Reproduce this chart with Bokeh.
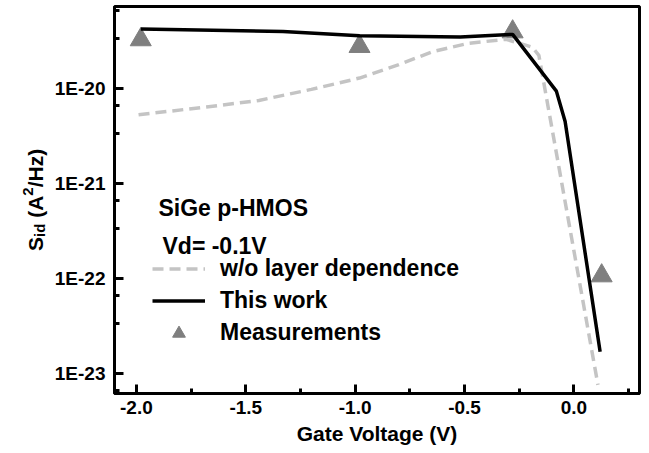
import math
import numpy as np
from bokeh.plotting import figure
from bokeh.layouts import row
from bokeh.models import (Range1d, SingleIntervalTicker, FixedTicker, NumeralTickFormatter,
                          CustomJSTickFormatter, Label, Legend, LegendItem)
from bokeh.embed import file_html
from bokeh.resources import INLINE

# ---- data ----
vg_model = [-1.98, -1.33, -0.98, -0.52, -0.28, -0.08, -0.04, 0.12]
sid_model = [4.23e-20, 3.99e-20, 3.6e-20, 3.5e-20, 3.72e-20, 9.4e-21, 4.5e-21, 1.7e-23]

vg_nolayer = [-1.99, -1.68, -1.44, -1.20, -0.98, -0.80, -0.64, -0.48, -0.31, -0.19, -0.16, 0.11]
sid_nolayer = [5.3e-21, 6.4e-21, 7.5e-21, 9.8e-21, 1.29e-20, 1.79e-20, 2.47e-20, 3.0e-20,
               3.3e-20, 2.73e-20, 2.24e-20, 7.6e-24]

vg_meas = [-1.98, -0.98, -0.28, 0.127]
sid_meas = [3.27e-20, 2.78e-20, 3.96e-20, 1.07e-22]

y_major = [1e-23, 1e-22, 1e-21, 1e-20]
y_tick_labels = ["1E-23", "1E-22", "1E-21", "1E-20"]
decades = [1e-24, 1e-23, 1e-22, 1e-21, 1e-20]
y_minor = [d * f for d in decades for f in (10.0 / 3.0, 20.0 / 3.0)]

series_labels = ["w/o layer dependence", "This work", "Measurements"]
note_lines = ["SiGe p-HMOS", "Vd= -0.1V"]
x_title = "Gate Voltage (V)"

FONT = "Liberation Sans"
STRIP_W = 48

p = figure(width=649 - STRIP_W, height=453, y_axis_type="log",
           x_range=Range1d(-2.1, 0.3), y_range=Range1d(10 ** -23.21, 10 ** -19.136),
           output_backend="svg", toolbar_location=None,
           min_border_left=114 - STRIP_W, min_border_right=10, min_border_top=6,
           min_border_bottom=60)
p.background_fill_color = "white"
p.border_fill_color = "white"
p.grid.visible = False
p.outline_line_color = "black"
p.outline_line_width = 3
p.outline_line_alpha = 1.0

# axes
p.xaxis.ticker = SingleIntervalTicker(interval=0.5, num_minor_ticks=2)
p.xaxis.formatter = NumeralTickFormatter(format="0.0")
p.yaxis.ticker = FixedTicker(ticks=y_major, minor_ticks=y_minor)
p.yaxis.formatter = CustomJSTickFormatter(args=dict(major_vals=y_major, lbls=y_tick_labels), code="""
    let best = 0, bd = 1e9;
    for (let i = 0; i < major_vals.length; i++) {
        const d = Math.abs(Math.log10(major_vals[i]) - Math.log10(tick));
        if (d < bd) { bd = d; best = i; }
    }
    return lbls[best];
""")
for ax in (p.xaxis[0], p.yaxis[0]):
    ax.axis_line_width = 3
    ax.axis_line_color = "black"
    ax.major_tick_in = 9
    ax.major_tick_out = 0
    ax.minor_tick_in = 5
    ax.minor_tick_out = 0
    ax.major_tick_line_width = 3
    ax.minor_tick_line_width = 3
    ax.major_tick_line_color = "black"
    ax.minor_tick_line_color = "black"
    ax.major_label_text_font = FONT
    ax.major_label_text_font_style = "bold"
    ax.major_label_text_font_size = "19px"
    ax.major_label_text_color = "black"
p.xaxis.major_label_standoff = 7
p.yaxis.major_label_standoff = 9
p.xaxis.axis_label = x_title
p.xaxis.axis_label_text_font = FONT
p.xaxis.axis_label_text_font_style = "bold"
p.xaxis.axis_label_text_font_size = "21px"
p.xaxis.axis_label_text_color = "black"
p.xaxis.axis_label_standoff = 5

# glyphs
r_meas = p.scatter(vg_meas, sid_meas, marker="triangle", size=21,
                   fill_color="#7f7f7f", line_color="#7f7f7f")
r_nl = p.line(vg_nolayer, sid_nolayer, line_color="#c4c4c4", line_width=3.5, line_dash="11 6")
r_m = p.line(vg_model, sid_model, line_color="black", line_width=3.5)

common = dict(border_line_alpha=0, background_fill_alpha=0, padding=0, margin=0,
              glyph_width=53, label_height=27, label_standoff=15,
              label_text_font=FONT, label_text_font_style="bold",
              label_text_font_size="23px", label_text_color="black")
leg1 = Legend(items=[LegendItem(label=series_labels[0], renderers=[r_nl]),
                     LegendItem(label=series_labels[1], renderers=[r_m])],
              location=(38, 79), glyph_height=27, spacing=5, **common)
leg2 = Legend(items=[LegendItem(label=series_labels[2], renderers=[r_meas], index=0)],
              location=(38, 44.5), glyph_height=32, spacing=0, **common)
p.add_layout(leg1)
p.add_layout(leg2)

# text notes
for txt, (lx, ly) in zip(note_lines, [(44, 186), (48, 148)]):
    p.add_layout(Label(x=lx, y=ly, x_units="screen", y_units="screen", text=txt,
                       text_font=FONT, text_font_style="bold", text_font_size="23px",
                       text_color="black", text_baseline="alphabetic", text_align="left"))

# rotated y-axis title S_id (A^2/Hz), drawn in a narrow strip at the left
yl = figure(width=STRIP_W, height=453, output_backend="svg", toolbar_location=None,
            x_range=Range1d(0, 1), y_range=Range1d(0, 1),
            x_axis_location=None, y_axis_location=None, min_border=0)
yl.grid.visible = False
yl.outline_line_color = None
yl.background_fill_color = "white"
yl.border_fill_color = "white"

F = 21
pieces = [("S", F, 0), ("id", 15, 4), ("(A", F, 0), ("2", 15, -8), ("/Hz)", F, 0)]
advances = [0.667 * F, 0.889 * 15, 1.055 * F, 0.556 * 15, 1.833 * F]
gaps = [0, 0, 0.278 * F, 0, 0]
ypos = 142.5   # frame of the strip is aligned with the main frame (bottom at canvas y=393)
for (txt, fs, shift), adv, gap in zip(pieces, advances, gaps):
    ypos += gap
    yl.add_layout(Label(x=35 + shift, y=ypos, x_units="screen", y_units="screen", text=txt,
                        angle=math.pi / 2, text_font=FONT, text_font_style="bold",
                        text_font_size=f"{fs}px", text_color="black",
                        text_baseline="alphabetic", text_align="left"))
    ypos += adv

layout = row(yl, p, spacing=0)
open("out.html", "w").write(file_html(layout, INLINE))
